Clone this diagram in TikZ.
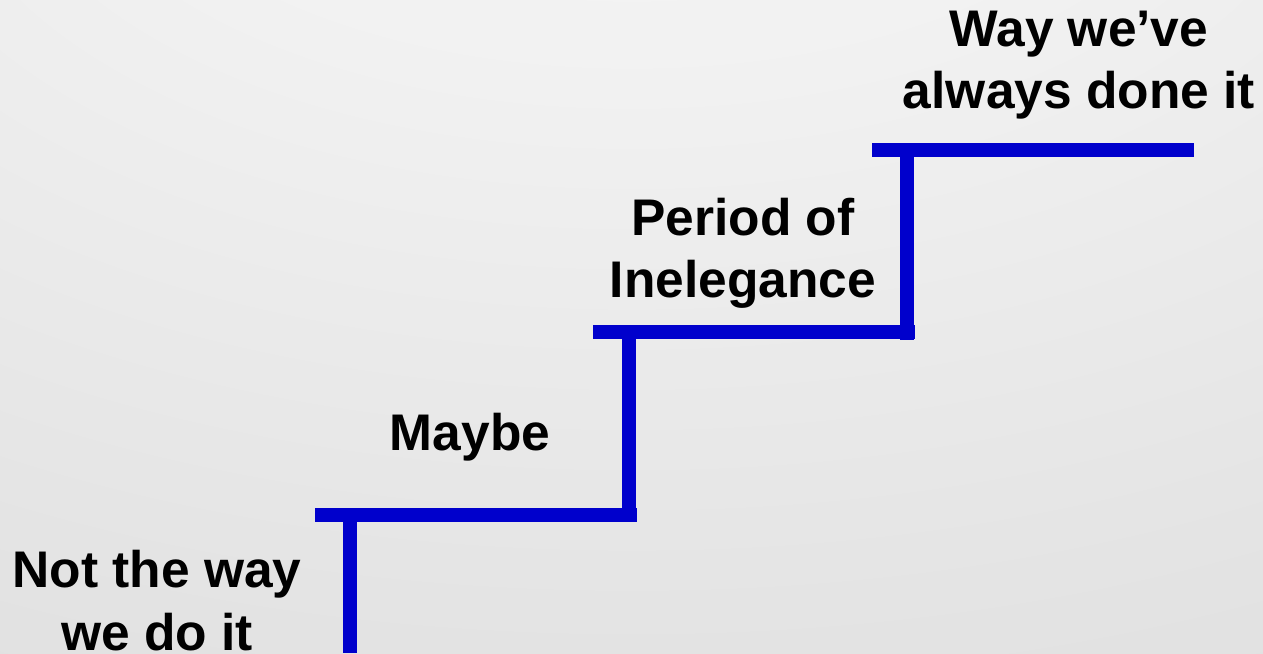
\documentclass[tikz,border=0pt]{standalone}
\usepackage{fontspec}
\setmainfont{Liberation Sans}
\definecolor{stairblue}{RGB}{0,0,204}
\definecolor{bgA}{RGB}{246,246,246}
\definecolor{bgB}{RGB}{242,242,242}
\definecolor{bgC}{RGB}{228,228,228}
\definecolor{bgD}{RGB}{220,220,220}
\definecolor{bgE}{RGB}{214,214,214}
\definecolor{bgF}{RGB}{209,209,209}
\pgfdeclareradialshading{bgshade}{\pgfpoint{0bp}{50bp}}{color(0bp)=(bgA); color(20bp)=(bgB); color(50bp)=(bgC); color(70bp)=(bgD); color(100bp)=(bgE); color(115bp)=(bgF)}
\tikzset{
  stair/.style={draw=stairblue, line width=14pt, line cap=butt},
  lbl/.style={font=\bfseries\fontsize{51.5}{62.5}\selectfont, align=center, inner sep=0pt, text=black}
}
\begin{document}
\begin{tikzpicture}[x=1pt,y=-1pt]
\useasboundingbox (0,0) rectangle (1263,653);
\shade[shading=bgshade] (0,0) rectangle (1263,653);
% step coordinates
\coordinate (h1a) at (315,515);
\coordinate (h1b) at (637,515);
\coordinate (v1t) at (350,515);
\coordinate (v1b) at (350,653);
\coordinate (v2t) at (629,332);
\coordinate (v2b) at (629,522);
\coordinate (h2a) at (593,332);
\coordinate (h2b) at (915,332);
\coordinate (v3t) at (907,150);
\coordinate (v3b) at (907,340);
\coordinate (h3a) at (872,150);
\coordinate (h3b) at (1194,150);
\draw[stair] (v1t) -- (v1b);
\draw[stair] (h1a) -- (h1b);
\draw[stair] (v2t) -- (v2b);
\draw[stair] (h2a) -- (h2b);
\draw[stair] (v3t) -- (v3b);
\draw[stair] (h3a) -- (h3b);
% labels
\node[lbl] (top) at (1079,65) {Way we’ve\\always done it};
\node[lbl] (period) at (743,253.5) {Period of\\Inelegance};
\node[lbl] (maybe) at (470,437) {Maybe};
\node[lbl] (notway) at (157,600.5) {Not the way\\we do it};
\end{tikzpicture}
\end{document}
